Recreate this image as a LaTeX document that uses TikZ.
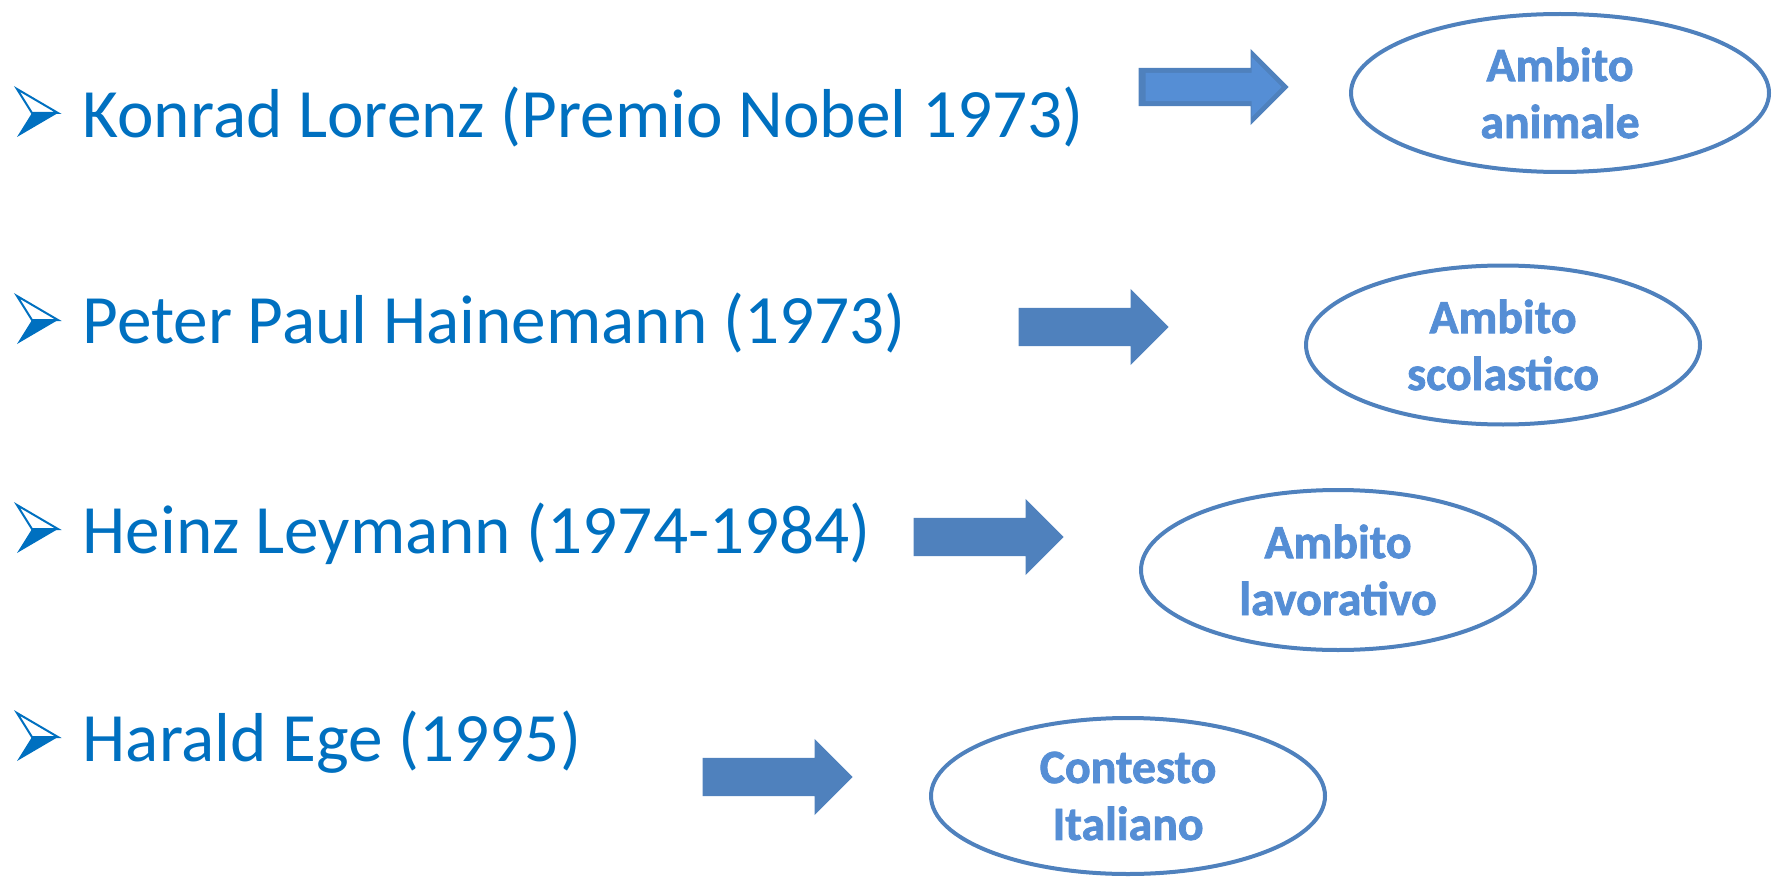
\documentclass[tikz,border=0pt]{standalone}
\usepackage{fontspec}
\setmainfont{Carlito}
\newfontfamily\ovalfont{Carlito}[BoldFeatures={FakeBold=1.6}]
\usepackage{xcolor}
\usetikzlibrary{shapes.geometric,shapes.arrows}

\definecolor{itemblue}{HTML}{0070C0}
\definecolor{shapeblue}{HTML}{4F81BD}
\definecolor{lightblue}{HTML}{558ED5}

\tikzset{
  item/.style={anchor=base west, inner sep=0pt, text=itemblue, font=\fontsize{19.7pt}{23pt}\selectfont},
  oval/.style={ellipse, draw=shapeblue, line width=0.4mm, inner sep=0pt, align=center, text=lightblue, font=\fontsize{13.6pt}{16.2pt}\selectfont\ovalfont\bfseries},
  fatarrow/.style={single arrow, anchor=tail, fill=shapeblue, inner xsep=0pt, inner ysep=1.85mm, single arrow head extend=1.9mm, single arrow tip angle=90, minimum height=15mm},
  pics/bulletmark/.style={code={
    \fill[itemblue] (-26,0) -- (0,0) -- (-41,24) -- cycle;
    \draw[itemblue, line width=0.2mm, line join=miter] (-41,-24) -- (0,0) -- (-26,0) -- cycle;
  }}
}

\begin{document}
\begin{tikzpicture}[x=0.1mm, y=-0.1mm]

\useasboundingbox (0,0) rectangle (1777,877);

% names with bullets
\node[item] (lorenz) at (82,137) {Konrad Lorenz (Premio Nobel 1973)};
\node[item] (haine) at (82,343) {Peter Paul Hainemann (1973)};
\node[item] (leymann) at (82,553) {Heinz Leymann (1974-1984)};
\node[item] (ege) at (82,761) {Harald Ege (1995)};

\pic (b1) at (58,113) {bulletmark};
\pic (b2) at (58,320) {bulletmark};
\pic (b3) at (58,529) {bulletmark};
\pic (b4) at (58,737) {bulletmark};

% block arrows (the first one is lighter inside)
\node[fatarrow] (arr1) at (1138,87) {};
\node[fatarrow, fill=lightblue, inner ysep=1.35mm, single arrow head extend=1.6mm, minimum height=13.6mm] (arr1in) at (1145,87) {};
\node[fatarrow] (arr2) at (1018,327) {};
\node[fatarrow] (arr3) at (913,537) {};
\node[fatarrow] (arr4) at (702,777) {};

% fields
\node[oval, minimum width=41.8mm, minimum height=15.8mm] (animale) at (1560,93) {Ambito\\animale};
\node[oval, minimum width=39.4mm, minimum height=15.9mm] (scuola) at (1503,345) {Ambito\\scolastico};
\node[oval, minimum width=39.4mm, minimum height=16mm] (lavoro) at (1338,570) {Ambito\\lavorativo};
\node[oval, minimum width=39.4mm, minimum height=15.6mm] (italia) at (1128,796) {Contesto\\Italiano};

\end{tikzpicture}
\end{document}
